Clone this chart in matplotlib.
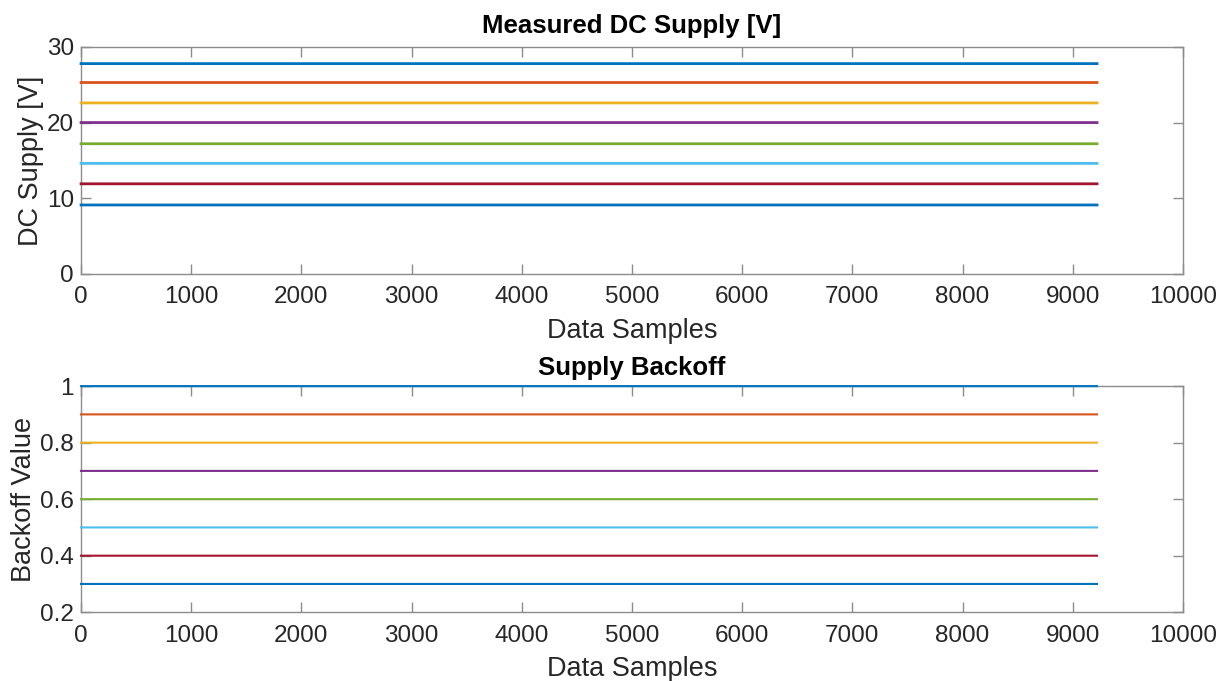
import numpy as np
import matplotlib.pyplot as plt
from matplotlib.ticker import FuncFormatter

# values
n_samples = 9220
supply_v = [27.8, 25.3, 22.6, 20.0, 17.2, 14.6, 11.9, 9.1]
backoff = [1.0, 0.9, 0.8, 0.7, 0.6, 0.5, 0.4, 0.3]

# matlab default colour order
colors = ['#0072BD', '#D95319', '#EDB120', '#7E2F8E',
          '#77AC30', '#4DBEEE', '#A2142F', '#0072BD']

plt.rcParams['font.family'] = ['Liberation Sans', 'DejaVu Sans']
txt = '#262626'
edge = '#8c8c8c'

fig = plt.figure(figsize=(12.32, 6.81), dpi=100)
ax1 = fig.add_axes([0.0657, 0.598, 0.8945, 0.333])
ax2 = fig.add_axes([0.0657, 0.101, 0.8945, 0.332])

x = np.arange(1, n_samples + 1)

for v, c in zip(supply_v, colors):
    ax1.plot(x, np.full(n_samples, v), color=c, lw=2, zorder=3, clip_on=False)
for v, c in zip(backoff, colors):
    ax2.plot(x, np.full(n_samples, v), color=c, lw=1.5, zorder=3, clip_on=False)

ax1.set_ylim(0, 30)
ax1.set_yticks([0, 10, 20, 30])
ax2.set_ylim(0.2, 1)
ax2.set_yticks([0.2, 0.4, 0.6, 0.8, 1.0])
ax2.yaxis.set_major_formatter(FuncFormatter(lambda v, p: '%g' % v))

ax1.set_title('Measured DC Supply [V]', fontsize=18.5, fontweight='bold', color='black', pad=10)
ax2.set_title('Supply Backoff', fontsize=18.5, fontweight='bold', color='black', pad=8)
ax1.set_ylabel('DC Supply [V]', fontsize=19.5, color=txt, labelpad=2)
ax2.set_ylabel('Backoff Value', fontsize=19.5, color=txt, labelpad=2)

for ax in (ax1, ax2):
    ax.set_xlim(0, 10000)
    ax.set_xticks(np.arange(0, 10001, 1000))
    ax.set_xlabel('Data Samples', fontsize=19.5, color=txt, labelpad=7)
    ax.tick_params(direction='in', top=True, right=True, length=7, width=1,
                   color=edge, labelcolor=txt, labelsize=17.5)
    ax.tick_params(axis='x', pad=9)
    ax.tick_params(axis='y', pad=5)
    for s in ax.spines.values():
        s.set_color(edge)
        s.set_linewidth(1)

fig.savefig('out.png', dpi=100)
